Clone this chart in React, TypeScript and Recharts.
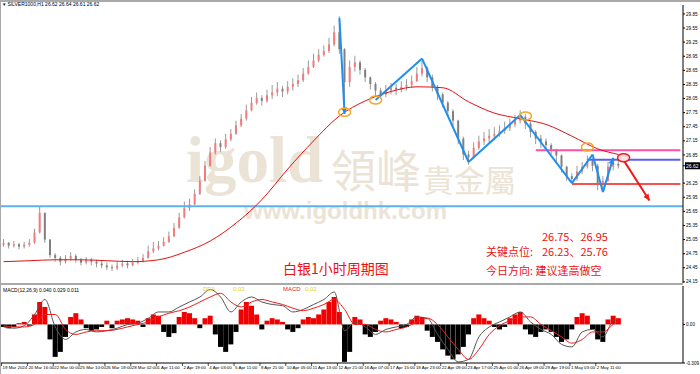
import React from 'react';
import {
  ComposedChart,
  Bar,
  Line,
  XAxis,
  YAxis,
  ReferenceLine,
  ReferenceDot,
  Cell,
} from 'recharts';

// hourly candles grouped into bars (one bar ~ 6 hours)
const closes = [
  24.98, 24.92, 24.95, 24.9, 24.94, 24.98, 25.2, 25.62, 25.05, 24.72,
  24.66, 24.58, 24.64, 24.7, 24.62, 24.56, 24.62, 24.58, 24.54, 24.5,
  24.46, 24.44, 24.5, 24.54, 24.5, 24.56, 24.6, 24.66, 24.8, 24.86,
  24.92, 25.0, 25.12, 25.3, 25.52, 25.72, 25.8, 26.02, 26.3, 26.62,
  26.9, 27.1, 27.02, 27.18, 27.3, 27.48, 27.62, 27.8, 27.96, 28.06,
  28.0, 28.12, 28.18, 28.26, 28.2, 28.3, 28.36, 28.44, 28.58, 28.72,
  28.86, 28.98, 29.06, 29.2, 29.46, 29.1, 28.4, 28.72, 28.82, 28.66,
  28.5, 28.36, 28.22, 28.14, 28.22, 28.28, 28.24, 28.3, 28.34, 28.42,
  28.58, 28.7, 28.5, 28.3, 28.14, 27.96, 27.78, 27.58, 27.2, 26.86,
  26.8, 27.0, 27.14, 27.2, 27.26, 27.3, 27.36, 27.42, 27.5, 27.58,
  27.66, 27.52, 27.34, 27.2, 27.14, 27.06, 26.96, 26.84, 26.6, 26.4,
  26.34, 26.5, 26.6, 26.72, 26.62, 26.24, 26.3, 26.6, 26.66, 26.62,
];
const highs = [
  25.06, 25.0, 25.02, 24.98, 25.0, 25.06, 25.28, 25.76, 25.62, 25.06,
  24.76, 24.7, 24.72, 24.78, 24.74, 24.66, 24.68, 24.66, 24.62, 24.6,
  24.56, 24.52, 24.58, 24.62, 24.6, 24.64, 24.68, 24.74, 24.92, 25.0,
  25.02, 25.1, 25.22, 25.4, 25.62, 25.86, 25.92, 26.12, 26.4, 26.72,
  27.02, 27.2, 27.16, 27.3, 27.4, 27.58, 27.72, 27.92, 28.08, 28.18,
  28.12, 28.24, 28.34, 28.4, 28.32, 28.42, 28.48, 28.56, 28.7, 28.86,
  29.0, 29.1, 29.18, 29.34, 29.6, 29.8, 29.12, 28.86, 28.96, 28.86,
  28.7, 28.52, 28.4, 28.28, 28.34, 28.38, 28.36, 28.42, 28.46, 28.54,
  28.72, 28.86, 28.74, 28.56, 28.34, 28.18, 28.0, 27.82, 27.6, 27.24,
  26.94, 27.12, 27.26, 27.34, 27.4, 27.44, 27.48, 27.56, 27.62, 27.7,
  27.8, 27.72, 27.56, 27.38, 27.28, 27.2, 27.1, 26.98, 26.86, 26.62,
  26.46, 26.62, 26.7, 26.84, 26.78, 26.66, 26.4, 26.7, 26.74, 26.72,
];
const lows = [
  24.9, 24.86, 24.88, 24.84, 24.86, 24.9, 24.96, 25.18, 24.98, 24.66,
  24.58, 24.5, 24.54, 24.6, 24.56, 24.5, 24.52, 24.5, 24.46, 24.44,
  24.4, 24.38, 24.4, 24.46, 24.44, 24.48, 24.52, 24.56, 24.64, 24.76,
  24.82, 24.9, 24.98, 25.1, 25.28, 25.5, 25.66, 25.78, 26.0, 26.28,
  26.6, 26.86, 26.92, 26.98, 27.14, 27.28, 27.44, 27.58, 27.78, 27.92,
  27.9, 27.96, 28.04, 28.1, 28.08, 28.14, 28.22, 28.3, 28.4, 28.56,
  28.7, 28.82, 28.94, 29.02, 29.16, 29.0, 27.96, 28.3, 28.62, 28.56,
  28.4, 28.24, 28.1, 28.04, 28.08, 28.14, 28.12, 28.18, 28.22, 28.28,
  28.4, 28.52, 28.4, 28.2, 28.02, 27.86, 27.66, 27.46, 27.08, 26.74,
  26.64, 26.78, 26.96, 27.06, 27.12, 27.16, 27.24, 27.3, 27.36, 27.44,
  27.52, 27.4, 27.22, 27.08, 27.0, 26.94, 26.86, 26.7, 26.48, 26.3,
  26.24, 26.3, 26.44, 26.56, 26.5, 26.1, 26.06, 26.28, 26.52, 26.56,
];
const firstOpen = 24.94;

// red moving average, read every 5 bars
const maIdx = [0, 5, 10, 15, 20, 25, 30, 35, 40, 45, 50, 55, 60, 65, 70, 75, 80, 85, 90, 95, 100, 105, 110, 115, 119];
const maVals = [
  24.58, 24.6, 24.62, 24.62, 24.6, 24.58, 24.62, 24.78, 25.02, 25.4,
  25.9, 26.55, 27.15, 27.68, 28.0, 28.2, 28.3, 28.28, 27.98, 27.74,
  27.62, 27.5, 27.25, 26.98, 26.86,
];

// MACD histogram per bar
const hist = [
  -0.02, -0.03, -0.02, 0.01, 0.02, -0.01, 0.08, 0.18, 0.14, -0.12,
  -0.26, -0.22, -0.1, 0.06, 0.09, 0.04, -0.03, -0.05, -0.04, -0.02,
  0.03, -0.03, 0.03, 0.04, 0.05, 0.04, 0.03, -0.02, 0.05, 0.08,
  0.07, -0.06, -0.1, -0.07, 0.06, 0.1, 0.09, 0.05, -0.03, 0.05,
  0.07, -0.08, -0.18, -0.22, -0.16, -0.06, 0.12, 0.18, 0.15, 0.08,
  -0.04, 0.03, 0.05, 0.04, 0.02, -0.04, -0.06, -0.03, 0.04, 0.06,
  0.05, 0.08, 0.12, 0.18, 0.22, 0.1, -0.3, -0.22, 0.06, 0.04,
  -0.08, -0.1, -0.06, 0.03, 0.05, 0.04, 0.02, -0.03, -0.02, 0.04,
  0.07, 0.06, -0.05, -0.1, -0.14, -0.2, -0.25, -0.28, -0.24, -0.18,
  -0.08, 0.05, 0.08, 0.05, 0.03, -0.02, -0.04, -0.02, 0.05, 0.08,
  0.1, -0.04, -0.08, -0.1, -0.06, -0.04, -0.06, -0.1, -0.14, -0.12,
  -0.04, 0.06, 0.09, 0.07, -0.04, -0.12, -0.14, 0.04, 0.07, 0.05,
];
// DIF / DEA lines, read every 2 bars
const lineIdx = [
  0, 2, 4, 6, 8, 10, 12, 14, 16, 18, 20, 22, 24, 26, 28, 30, 32, 34, 36, 38,
  40, 42, 44, 46, 48, 50, 52, 54, 56, 58, 60, 62, 64, 66, 68, 70, 72, 74, 76, 78,
  80, 82, 84, 86, 88, 90, 92, 94, 96, 98, 100, 102, 104, 106, 108, 110, 112, 114, 116, 118, 119,
];
const difVals = [
  -0.02, -0.03, -0.01, 0.08, 0.2, -0.02, -0.12, -0.06, -0.04, -0.06,
  -0.05, -0.03, 0.0, 0.01, 0.05, 0.1, 0.1, 0.14, 0.18, 0.22,
  0.28, 0.22, 0.1, 0.18, 0.22, 0.18, 0.16, 0.15, 0.1, 0.12,
  0.16, 0.2, 0.26, -0.05, 0.02, -0.02, -0.08, -0.04, -0.02, 0.0,
  0.06, 0.05, -0.08, -0.2, -0.3, -0.28, -0.1, -0.02, 0.02, 0.06,
  0.1, 0.02, -0.04, -0.08, -0.16, -0.18, -0.06, -0.04, -0.1, 0.03, 0.04,
];
const deaVals = [
  -0.01, -0.02, -0.02, 0.0, 0.08, 0.08, -0.04, -0.08, -0.06, -0.05,
  -0.05, -0.04, -0.02, 0.0, 0.02, 0.06, 0.09, 0.11, 0.14, 0.18,
  0.22, 0.25, 0.18, 0.14, 0.18, 0.2, 0.18, 0.16, 0.13, 0.11,
  0.13, 0.16, 0.2, 0.12, 0.0, 0.0, -0.04, -0.06, -0.04, -0.02,
  0.02, 0.05, 0.0, -0.1, -0.2, -0.28, -0.2, -0.08, -0.01, 0.03,
  0.06, 0.06, 0.0, -0.05, -0.1, -0.15, -0.12, -0.06, -0.06, 0.0, 0.029,
];

const timeLabels = [
  '19 Mar 2024', '20 Mar 16:00', '22 Mar 00:00', '25 Mar 10:00', '26 Mar 18:00',
  '28 Mar 02:00', '1 Apr 11:00', '2 Apr 19:00', '4 Apr 03:00', '5 Apr 11:00',
  '8 Apr 21:00', '10 Apr 05:00', '11 Apr 13:00', '12 Apr 21:00', '16 Apr 07:00',
  '17 Apr 15:00', '18 Apr 23:00', '22 Apr 09:00', '23 Apr 17:00', '25 Apr 01:00',
  '26 Apr 09:00', '29 Apr 19:00', '1 May 03:00', '2 May 11:00',
];
const priceTicks = [
  29.85, 29.55, 29.25, 28.95, 28.65, 28.35, 28.05, 27.75, 27.45, 27.15,
  26.85, 26.62, 26.25, 25.95, 25.65, 25.35, 25.05, 24.75, 24.45, 24.15,
];
const lastPrice = 26.62;
const SLOTS = 132;

const rows = Array.from({ length: SLOTS }, (_, i) => {
  const has = i < closes.length;
  const mi = maIdx.indexOf(i);
  const li = lineIdx.indexOf(i);
  return {
    i,
    open: has ? (i === 0 ? firstOpen : closes[i - 1]) : null,
    close: has ? closes[i] : null,
    high: has ? highs[i] : null,
    low: has ? lows[i] : null,
    range: has ? [lows[i], highs[i]] : null,
    ma: mi >= 0 ? maVals[mi] : null,
    hist: has ? hist[i] : null,
    dif: li >= 0 ? difVals[li] : null,
    dea: li >= 0 ? deaVals[li] : null,
  };
});

const FONT = '"Liberation Sans", Arial, sans-serif';
const CJK = '"Noto Sans CJK SC", sans-serif';

const Candle = (props: any) => {
  const { x, y, width, height, payload } = props;
  if (!payload || payload.high == null) return null;
  const top = Math.min(y, y + height);
  const h = Math.abs(height);
  const k = h / (payload.high - payload.low || 1);
  const cx = x + width / 2;
  const up = payload.close >= payload.open;
  const bTop = top + (payload.high - Math.max(payload.open, payload.close)) * k;
  const bH = Math.max(1, Math.abs(payload.close - payload.open) * k);
  return (
    <g>
      <line x1={cx} x2={cx} y1={top} y2={top + h} stroke="#9a9a9a" strokeWidth={1} />
      <rect x={cx - 1} y={bTop} width={2} height={bH} fill={up ? '#f27c7c' : '#808080'} />
    </g>
  );
};

const arrow = (color: string, head: boolean) => (p: any) => {
  const { x1, y1, x2, y2 } = p;
  const a = Math.atan2(y2 - y1, x2 - x1);
  const s = 7;
  const pA = `${x2 - s * Math.cos(a - 0.45)},${y2 - s * Math.sin(a - 0.45)}`;
  const pB = `${x2 - s * Math.cos(a + 0.45)},${y2 - s * Math.sin(a + 0.45)}`;
  return (
    <g>
      <line x1={x1} y1={y1} x2={x2} y2={y2} stroke={color} strokeWidth={2} />
      {head && <polygon points={`${x2},${y2} ${pA} ${pB}`} fill={color} />}
    </g>
  );
};

const ring = (color: string, fill: string) => (p: any) => (
  <ellipse cx={p.cx} cy={p.cy} rx={6} ry={4} fill={fill} stroke={color} strokeWidth={1.5} />
);

const PriceTick = (p: any) => {
  const v = p.payload.value;
  if (v === lastPrice) {
    return (
      <g>
        <rect x={p.x - 1} y={p.y - 3.5} width={18} height={7} fill="#000" />
        <text x={p.x} y={p.y + 1.8} fontSize={5} fill="#fff" fontFamily={FONT}>{v.toFixed(2)}</text>
      </g>
    );
  }
  return (
    <text x={p.x} y={p.y + 1.6} fontSize={4.6} fill="#000" fontFamily={FONT}>{v.toFixed(2)}</text>
  );
};

const MacdTick = (p: any) => {
  const v = p.payload.value;
  const t = v === 0 ? '0.00' : v.toFixed(3);
  return <text x={p.x} y={p.y + 1.6} fontSize={4.6} fill="#000" fontFamily={FONT}>{t}</text>;
};

const TimeTick = (p: any) => {
  const v = p.payload.value;
  if (v % 5 !== 0 || v / 5 >= timeLabels.length) return null;
  return (
    <g>
      <line x1={p.x - 2} x2={p.x - 2} y1={p.y} y2={p.y + 3} stroke="#000" strokeWidth={0.7} />
      <text x={p.x - 1} y={p.y + 5.5} fontSize={4.4} fill="#000" fontFamily={FONT}>{timeLabels[v / 5]}</text>
    </g>
  );
};

const zigzag: [number, number][] = [
  [72, 28.02], [81, 28.9], [90, 26.7], [100, 27.7], [110, 26.25], [114, 26.86], [116, 26.06], [118, 26.79],
];

export default function App() {
  return (
    <div style={{ position: 'fixed', left: 0, top: 0, width: 700, height: 374, background: '#fff', overflow: 'hidden' }}>
      <div style={{ position: 'absolute', left: 0, top: 0, width: 700, height: 2, background: '#a9a9a9' }} />
      <div style={{ position: 'absolute', left: 0, top: 0, width: 1, height: 374, background: '#a9a9a9' }} />

      {/* watermark */}
      <div style={{ position: 'absolute', left: 186, top: 128, fontFamily: '"Liberation Serif", serif', fontWeight: 700, fontSize: 65, color: '#ebe4d6', lineHeight: 1 }}>igold</div>
      <div style={{ position: 'absolute', left: 331, top: 146, fontFamily: '"Noto Sans CJK TC", sans-serif', fontSize: 45, color: '#ebe4d6', lineHeight: 1 }}>領峰</div>
      <div style={{ position: 'absolute', left: 423, top: 163, fontFamily: '"Noto Sans CJK TC", sans-serif', fontSize: 31, color: '#ebe4d6', lineHeight: 1 }}>貴金屬</div>
      <div style={{ position: 'absolute', left: 244, top: 199, fontFamily: FONT, fontWeight: 700, fontSize: 24, color: '#ebe4d6', lineHeight: 1 }}>www.igoldhk.com</div>

      <div style={{ position: 'absolute', left: 0, top: 0 }}>
        <ComposedChart width={700} height={283} data={rows} margin={{ top: 5, right: 0, bottom: 0, left: 1 }} barCategoryGap={0}>
          <XAxis dataKey="i" type="category" hide />
          <YAxis
            orientation="right"
            width={17}
            domain={[24.126, 30.04]}
            allowDataOverflow
            ticks={priceTicks}
            interval={0}
            tick={<PriceTick />}
            tickSize={2}
            tickMargin={1}
            axisLine={{ stroke: '#000' }}
            tickLine={{ stroke: '#000' }}
          />
          <ReferenceLine y={25.76} stroke="#5ab2ef" strokeWidth={2} />
          <ReferenceLine segment={[{ x: 103, y: 26.95 }, { x: 131, y: 26.95 }]} stroke="#ff4fa3" strokeWidth={2} />
          <ReferenceLine segment={[{ x: 113, y: 26.75 }, { x: 131, y: 26.75 }]} stroke="#5d5cf5" strokeWidth={2} />
          <ReferenceLine segment={[{ x: 110, y: 26.23 }, { x: 131, y: 26.23 }]} stroke="#f5514f" strokeWidth={2} />
          <Bar dataKey="range" shape={<Candle />} isAnimationActive={false} />
          <Line dataKey="ma" type="monotone" stroke="#e41010" strokeWidth={1} dot={false} connectNulls isAnimationActive={false} />
          <ReferenceLine segment={[{ x: 65, y: 29.76 }, { x: 66, y: 27.72 }]} shape={arrow('#1e8ff0', true)} />
          {zigzag.slice(1).map((pt, k) => (
            <ReferenceLine
              key={k}
              segment={[{ x: zigzag[k][0], y: zigzag[k][1] }, { x: pt[0], y: pt[1] }]}
              shape={arrow('#1e8ff0', k === zigzag.length - 2)}
            />
          ))}
          <ReferenceLine segment={[{ x: 120, y: 26.74 }, { x: 125, y: 25.88 }]} shape={arrow('#ee1c1c', true)} />
          <ReferenceDot x={66} y={27.76} shape={ring('#f5a623', 'none')} />
          <ReferenceDot x={72} y={28.02} shape={ring('#f5a623', 'none')} />
          <ReferenceDot x={101} y={27.68} shape={ring('#f5a623', 'none')} />
          <ReferenceDot x={113} y={27.02} shape={ring('#f5a623', 'none')} />
          <ReferenceDot x={120} y={26.79} shape={ring('#ee1c1c', '#fde0e0')} />
        </ComposedChart>
      </div>

      <div style={{ position: 'absolute', left: 283, top: 261, fontFamily: CJK, fontSize: 14, color: '#ee1111', lineHeight: 1 }}>白银1小时周期图</div>
      <div style={{ position: 'absolute', left: 542, top: 231, fontFamily: CJK, fontSize: 11, color: '#f01010', lineHeight: 1 }}>26.75、26.95</div>
      <div style={{ position: 'absolute', left: 486, top: 246, fontFamily: CJK, fontSize: 11, color: '#f01010', lineHeight: 1 }}>关键点位:</div>
      <div style={{ position: 'absolute', left: 542, top: 246, fontFamily: CJK, fontSize: 11, color: '#f01010', lineHeight: 1 }}>26.23、25.76</div>
      <div style={{ position: 'absolute', left: 486, top: 265, fontFamily: CJK, fontSize: 11, color: '#f01010', lineHeight: 1 }}>今日方向: 建议逢高做空</div>

      <div style={{ position: 'absolute', left: 3, top: 2, fontFamily: FONT, fontSize: 5, color: '#000', lineHeight: 1 }}>▾ SILVER1000,H1  26.62 26.64 26.61 26.62</div>

      <div style={{ position: 'absolute', left: 0, top: 283, width: 683, height: 2, background: '#a9a9a9' }} />

      <div style={{ position: 'absolute', left: 0, top: 284 }}>
        <ComposedChart width={700} height={90} data={rows} margin={{ top: 2, right: 0, bottom: 0, left: 1 }} barCategoryGap={0}>
          <XAxis
            dataKey="i"
            type="category"
            interval={0}
            height={11}
            tick={<TimeTick />}
            tickSize={0}
            tickMargin={0}
            tickLine={false}
            axisLine={{ stroke: '#000' }}
          />
          <YAxis
            orientation="right"
            width={17}
            domain={[-0.309, 0.308]}
            allowDataOverflow
            ticks={[0.308, 0, -0.309]}
            tick={<MacdTick />}
            tickSize={2}
            tickMargin={1}
            axisLine={{ stroke: '#000' }}
            tickLine={{ stroke: '#000' }}
          />
          <Bar dataKey="hist" isAnimationActive={false}>
            {rows.map((r) => (
              <Cell key={r.i} fill={(r.hist ?? 0) >= 0 ? '#f00000' : '#000000'} />
            ))}
          </Bar>
          <Line dataKey="dif" type="monotone" stroke="#555" strokeWidth={1} dot={false} connectNulls isAnimationActive={false} />
          <Line dataKey="dea" type="monotone" stroke="#ee1c1c" strokeWidth={1} dot={false} connectNulls isAnimationActive={false} />
        </ComposedChart>
      </div>
      <div style={{ position: 'absolute', left: 3, top: 288, fontFamily: FONT, fontSize: 5, color: '#000', lineHeight: 1 }}>MACD(12,26,9) 0.040 0.029 0.011</div>
      <div style={{ position: 'absolute', left: 203, top: 286, fontFamily: FONT, fontSize: 6, color: '#e6d200', lineHeight: 1 }}>DEA</div>
      <div style={{ position: 'absolute', left: 233, top: 286, fontFamily: FONT, fontSize: 6, color: '#e6d200', lineHeight: 1 }}>0.03</div>
      <div style={{ position: 'absolute', left: 283, top: 286, fontFamily: FONT, fontSize: 6, color: '#ee1c1c', lineHeight: 1 }}>MACD</div>
      <div style={{ position: 'absolute', left: 305, top: 286, fontFamily: FONT, fontSize: 6, color: '#e6d200', lineHeight: 1 }}>0.02</div>
    </div>
  );
}
